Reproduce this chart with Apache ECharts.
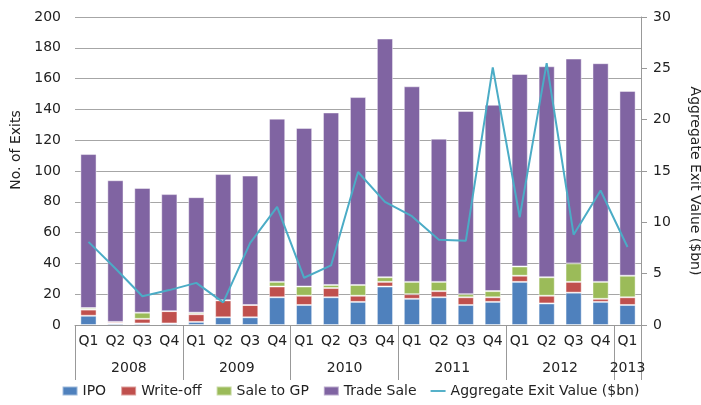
<!DOCTYPE html>
<html>
<head>
	<meta charset="utf-8" />
	<title>Exits by quarter</title>
	<script src="https://cdn.jsdelivr.net/npm/echarts@6/dist/echarts.min.js"></script>
	<style>
		html, body { margin: 0; padding: 0; background: #fff; }
		#main { width: 701px; height: 405px; }
	</style>
</head>
<body>
	<div id="main"></div>
	<script>
		// quarter labels and the year each bar belongs to
		var quarters = ['Q1','Q2','Q3','Q4','Q1','Q2','Q3','Q4','Q1','Q2','Q3','Q4','Q1','Q2','Q3','Q4','Q1','Q2','Q3','Q4','Q1'];
		var years = ['2008','2008','2008','2008','2009','2009','2009','2009','2010','2010','2010','2010',
			'2011','2011','2011','2011','2012','2012','2012','2012','2013'];

		// number of exits
		var ipo       = [6, 1, 1, 1,   2, 5, 5, 18,   13, 18, 15, 25,   17, 18, 13, 15,   28, 14, 21, 15,   13];
		var writeOff  = [4, 1, 3, 8,   5, 11, 8, 7,   6, 6, 4, 3,       3, 4, 5, 3,       4, 5, 7, 2,       5];
		var saleToGP  = [1, 0, 4, 0,   1, 0, 0, 3,    6, 2, 7, 3,       8, 6, 2, 4,       6, 12, 12, 11,    14];
		var tradeSale = [100, 92, 81, 76,   75, 82, 84, 106,   103, 112, 122, 155,   127, 93, 119, 121,   125, 137, 133, 142,   120];

		// aggregate exit value ($bn)
		var exitValue = [8.1, 5.5, 2.8, 3.4,   4.1, 2.2, 8.0, 11.5,   4.6, 5.8, 14.9, 12.0,
			10.6, 8.3, 8.2, 25.1,   10.5, 25.5, 8.8, 13.1,   7.6];

		var font = 'DejaVu Sans';
		var txt = '#222';
		var colors = ['#4F81BD', '#C0504D', '#9BBB59', '#8064A2', '#4BACC6'];

		function barSeries(name, data) {
			return {
				name: name,
				type: 'bar',
				stack: 'exits',
				barWidth: '60%',
				data: data,
				itemStyle: { borderColor: 'rgba(255,255,255,0.45)', borderWidth: 1 }
			};
		}

		var chart = echarts.init(document.getElementById('main'));
		chart.setOption({
			animation: false,
			color: colors,
			textStyle: { fontFamily: font, color: txt },
			grid: { left: 75, right: 60, top: 17, bottom: 80, containLabel: false, outerBoundsMode: 'none' },
			legend: {
				bottom: 2,
				left: 'center',
				itemGap: 14,
				itemWidth: 15,
				itemHeight: 9,
				textStyle: { fontFamily: font, fontSize: 14, color: txt },
				data: [
					{ name: 'IPO', icon: 'rect' },
					{ name: 'Write-off', icon: 'rect' },
					{ name: 'Sale to GP', icon: 'rect' },
					{ name: 'Trade Sale', icon: 'rect' },
					{ name: 'Aggregate Exit Value ($bn)', icon: 'path://M0,0L16,0L16,2L0,2Z' }
				]
			},
			xAxis: [
				{
					type: 'category',
					data: quarters,
					axisLine: { lineStyle: { color: '#999' } },
					axisTick: {
						show: true,
						length: 55,
						lineStyle: { color: '#999' },
						// one separator every 4 quarters (year boundaries)
						interval: 3
					},
					axisLabel: { interval: 0, margin: 9, fontSize: 14, color: txt }
				},
				{
					type: 'category',
					position: 'bottom',
					data: years,
					axisLine: { show: false },
					axisTick: { show: false },
					axisLabel: {
						interval: 0,
						margin: 36,
						fontSize: 14,
						color: txt,
						formatter: function (v, i) {
							var start = years.indexOf(v);
							var count = years.lastIndexOf(v) - start + 1;
							if (count === 1) return i === start ? '{c|' + v + '}' : '';
							// even sized group: label goes between the two middle bars
							return i === start + count / 2 - 1 ? '{s|' + v + '}' : '';
						},
						rich: {
							s: { fontSize: 14, fontFamily: font, color: txt, padding: [0, 0, 0, 27] },
							c: { fontSize: 14, fontFamily: font, color: txt }
						}
					}
				}
			],
			yAxis: [
				{
					type: 'value',
					min: 0,
					max: 200,
					interval: 20,
					name: 'No. of Exits',
					nameLocation: 'middle',
					nameGap: 45,
					nameTextStyle: { fontSize: 14, color: txt, padding: [0, 0, 0, 42] },
					axisLine: { show: false },
					axisTick: { show: false },
					axisLabel: { fontSize: 14, color: txt, margin: 14 },
					splitLine: { lineStyle: { color: '#a6a6a6', width: 1 } }
				},
				{
					type: 'value',
					min: 0,
					max: 30,
					interval: 5,
					name: 'Aggregate Exit Value ($bn)',
					nameLocation: 'middle',
					nameRotate: -90,
					nameGap: 47,
					nameTextStyle: { fontSize: 14, color: txt, padding: [0, 0, 0, 20] },
					axisLine: { show: true, lineStyle: { color: '#999' } },
					axisTick: { show: true, length: 6, lineStyle: { color: '#999' } },
					axisLabel: { fontSize: 14, color: txt, margin: 12 },
					splitLine: { show: false }
				}
			],
			series: [
				barSeries('IPO', ipo),
				barSeries('Write-off', writeOff),
				barSeries('Sale to GP', saleToGP),
				barSeries('Trade Sale', tradeSale),
				{
					name: 'Aggregate Exit Value ($bn)',
					type: 'line',
					yAxisIndex: 1,
					data: exitValue,
					symbol: 'none',
					lineStyle: { width: 2 },
					z: 5
				}
			]
		});
	</script>
</body>
</html>
